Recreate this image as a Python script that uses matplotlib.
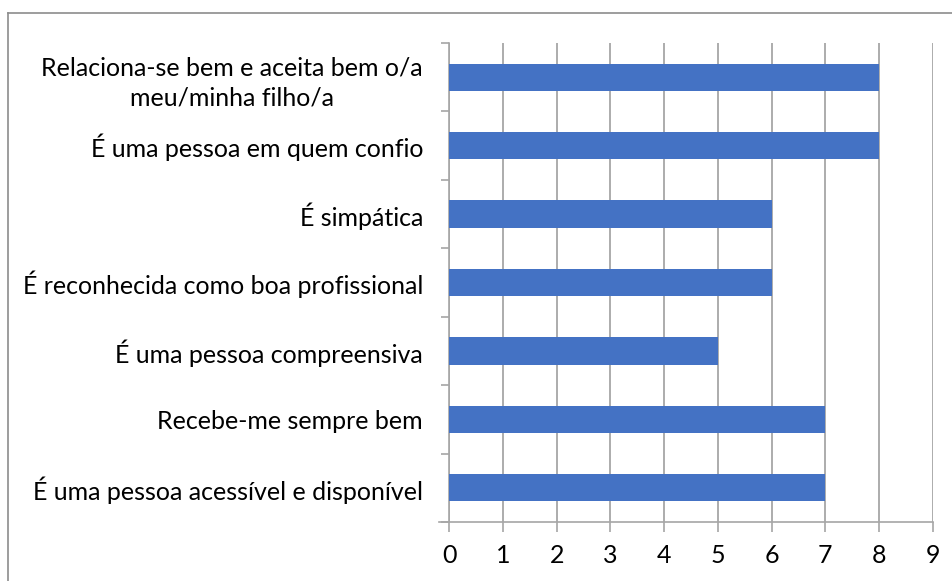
import matplotlib
matplotlib.use("Agg")
import matplotlib.pyplot as plt
from matplotlib.lines import Line2D
import numpy as np

categories = [
    "Relaciona-se bem e aceita bem o/a\nmeu/minha filho/a",
    "É uma pessoa em quem confio",
    "É simpática",
    "É reconhecida como boa profissional",
    "É uma pessoa compreensiva",
    "Recebe-me sempre bem",
    "É uma pessoa acessível e disponível",
]
values = [8, 8, 6, 6, 5, 7, 7]
x_ticks = [0, 1, 2, 3, 4, 5, 6, 7, 8, 9]

plt.rcParams['font.family'] = ['Lato', 'DejaVu Sans']

W, H = 953, 581
fig = plt.figure(figsize=(W / 100, H / 100), dpi=100)
ax = fig.add_axes([449.4 / W, 1 - 522 / H, (932.7 - 449.4) / W, (522 - 43) / H])

n = len(categories)
ypos = np.arange(n)[::-1]
ax.barh(ypos, values, height=0.4, color='#4472C4', zorder=3)

ax.set_xlim(0, 9)
ax.set_ylim(-0.5, n - 0.5)
ax.set_xticks(x_ticks)
ax.set_xticklabels([str(t) for t in x_ticks], fontsize=18, color='black')
ax.grid(axis='x', color='#a6a6a6', linewidth=1.3, zorder=0)

ax.set_yticks(ypos)
ax.set_yticklabels(categories, fontsize=18, color='black', multialignment='center', linespacing=1.4)
ax.set_yticks(np.arange(-0.5, n, 1.0), minor=True)
ax.tick_params(axis='y', which='major', length=0, pad=19)
ax.tick_params(axis='y', which='minor', length=6, color='#a6a6a6', width=1.2)
ax.tick_params(axis='x', length=7, color='#a6a6a6', width=1.2, pad=9)

for s in ['top', 'right']:
    ax.spines[s].set_visible(False)
for s in ['left', 'bottom']:
    ax.spines[s].set_color('#a6a6a6')
    ax.spines[s].set_linewidth(1.2)
ax.spines['bottom'].set_bounds(-0.2, 9)

# outer chart border (left and top visible)
fig.add_artist(Line2D([8.5 / W, 8.5 / W], [0, 1 - 13 / H], transform=fig.transFigure, color='#8c8c8c', lw=1.2))
fig.add_artist(Line2D([8.5 / W, 1], [1 - 13 / H, 1 - 13 / H], transform=fig.transFigure, color='#8c8c8c', lw=1.2))

fig.savefig('out.png', dpi=100, facecolor='white')
